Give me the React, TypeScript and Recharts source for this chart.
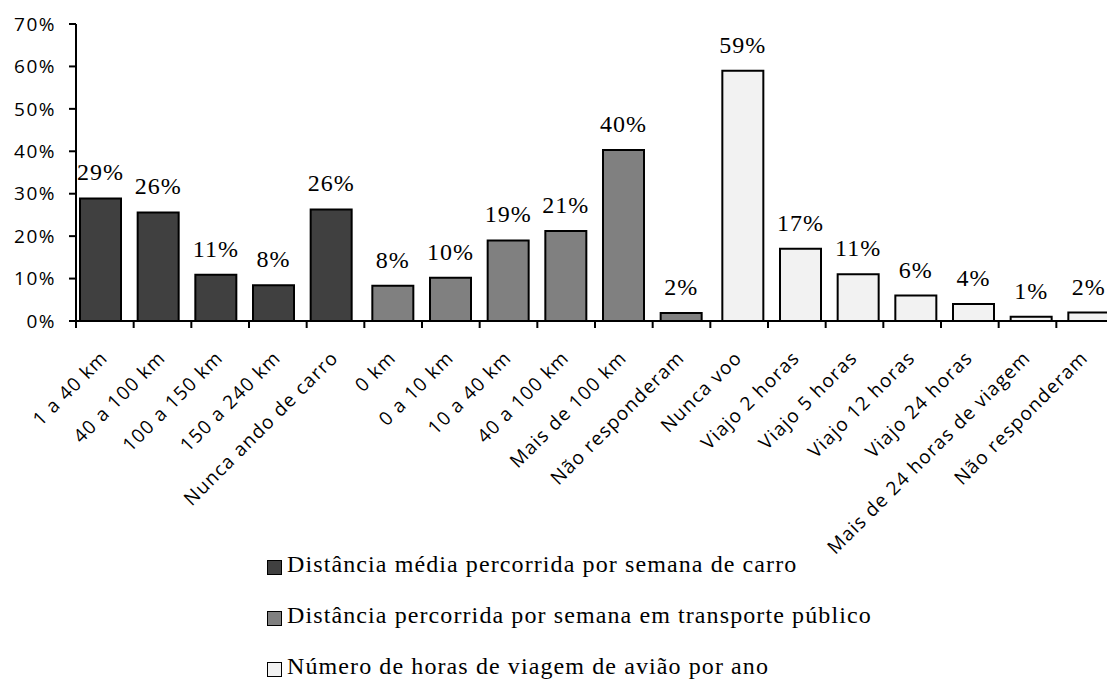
import React from "react"
import { BarChart, Bar, XAxis, YAxis, LabelList, Legend } from "recharts"

const categories = [
  "1 a 40 km",
  "40 a 100 km",
  "100 a 150 km",
  "150 a 240 km",
  "Nunca ando de carro",
  "0 km",
  "0 a 10 km",
  "10 a 40 km",
  "40 a 100 km",
  "Mais de 100 km",
  "Não responderam",
  "Nunca voo",
  "Viajo 2 horas",
  "Viajo 5 horas",
  "Viajo 12 horas",
  "Viajo 24 horas",
  "Mais de 24 horas de viagem",
  "Não responderam",
]

// one group of bars per question, in category order
const carValues = [28.9, 25.6, 10.9, 8.4, 26.3]
const transitValues = [8.3, 10.2, 19.0, 21.2, 40.3, 1.9]
const planeValues = [59.0, 17.0, 11.0, 6.0, 4.0, 1.0, 2.0]

const seriesNames = [
  "Distância média percorrida por semana de carro",
  "Distância percorrida por semana em transporte público",
  "Número de horas de viagem de avião por ano",
]

const yTicks = [0, 10, 20, 30, 40, 50, 60, 70]

const data = categories.map((label, i) => {
  const t = i - carValues.length
  const p = t - transitValues.length
  return {
    label,
    car: i < carValues.length ? carValues[i] : null,
    transit: t >= 0 && t < transitValues.length ? transitValues[t] : null,
    plane: p >= 0 ? planeValues[p] : null,
  }
})

const W = 1120
const H = 679
const MARGIN = { top: 24, right: 6, bottom: 0, left: 0 }
const Y_W = 76
const BAND = (W - MARGIN.left - MARGIN.right - Y_W) / categories.length

const sans = "'Open Sans', sans-serif"
const serif = "'Liberation Serif', 'Times New Roman', serif"

const pct = (v: any) => (v == null ? "" : `${Math.round(v)}%`)

function CategoryTick(props: any) {
  const { x, y, payload } = props
  const left = x - BAND / 2
  const ax = x + 4
  const ay = y + 38
  return (
    <g>
      <line x1={left} x2={left} y1={y} y2={y + 7} stroke="#000" strokeWidth={2} />
      <text
        x={ax}
        y={ay}
        transform={`rotate(-45, ${ax}, ${ay})`}
        textAnchor="end"
        fontFamily={sans}
        fontSize={19}
        letterSpacing={1.2}
        fill="#000"
      >
        {payload.value}
      </text>
    </g>
  )
}

function LegendRows(props: any) {
  const { payload } = props
  return (
    <div>
      {(payload || []).map((entry: any) => (
        <div key={entry.value} style={{ display: "flex", alignItems: "flex-start", height: 51 }}>
          <span
            style={{
              width: 15,
              height: 15,
              marginTop: 21,
              marginRight: 5,
              boxSizing: "border-box",
              border: "1.5px solid #000",
              background: entry.color,
            }}
          />
          <span
            style={{
              fontFamily: serif,
              fontSize: 24,
              letterSpacing: 1.1,
              lineHeight: "51px",
              color: "#000",
              whiteSpace: "nowrap",
            }}
          >
            {entry.value}
          </span>
        </div>
      ))}
    </div>
  )
}

const labelStyle = { fontFamily: serif, fontSize: 24, letterSpacing: 1, fill: "#000" }

export default function App() {
  return (
    <div style={{ position: "absolute", left: 0, top: 0, width: 1107, height: H, overflow: "hidden", background: "#fff" }}>
      <BarChart width={W} height={H} data={data} margin={MARGIN} barSize={41} barGap={-37}>
        <XAxis
          dataKey="label"
          interval={0}
          height={358}
          axisLine={{ stroke: "#000", strokeWidth: 2 }}
          tickLine={false}
          tickSize={0}
          tickMargin={0}
          tick={<CategoryTick />}
        />
        <YAxis
          width={Y_W}
          domain={[0, 70]}
          ticks={yTicks}
          interval={0}
          tickFormatter={(v) => `${v}%`}
          axisLine={{ stroke: "#000", strokeWidth: 2 }}
          tickLine={{ stroke: "#000", strokeWidth: 2 }}
          tickSize={7}
          tickMargin={13}
          tick={{ fontFamily: sans, fontSize: 19, letterSpacing: 1.5, fill: "#000" }}
        />
        <Legend
          layout="vertical"
          align="center"
          verticalAlign="middle"
          content={<LegendRows />}
          wrapperStyle={{ left: 267, top: 539, width: "auto", height: "auto" }}
        />
        <Bar dataKey="car" name={seriesNames[0]} fill="#404040" stroke="#000" strokeWidth={2} isAnimationActive={false}>
          <LabelList dataKey="car" position="top" offset={18} formatter={pct} {...labelStyle} />
        </Bar>
        <Bar dataKey="transit" name={seriesNames[1]} fill="#808080" stroke="#000" strokeWidth={2} isAnimationActive={false}>
          <LabelList dataKey="transit" position="top" offset={18} formatter={pct} {...labelStyle} />
        </Bar>
        <Bar dataKey="plane" name={seriesNames[2]} fill="#f2f2f2" stroke="#000" strokeWidth={2} isAnimationActive={false}>
          <LabelList dataKey="plane" position="top" offset={18} formatter={pct} {...labelStyle} />
        </Bar>
      </BarChart>
    </div>
  )
}
